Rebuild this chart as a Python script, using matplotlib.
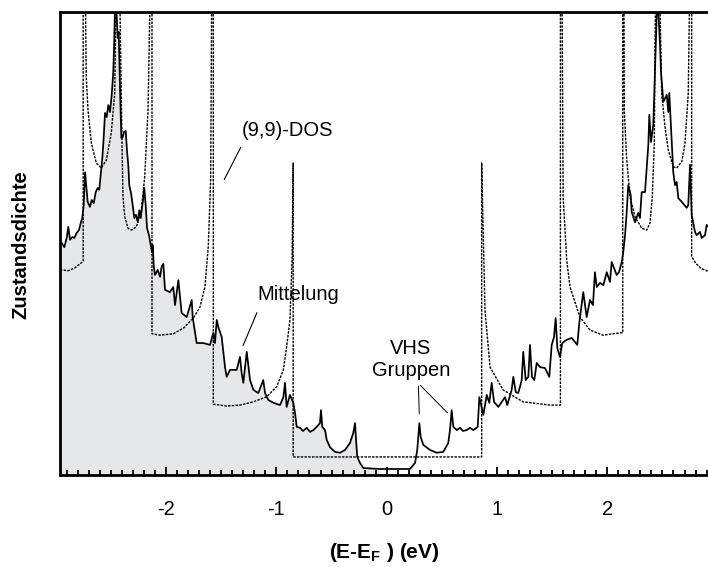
import numpy as np
import matplotlib
matplotlib.use("Agg")
import matplotlib.pyplot as plt

plt.rcParams['font.family'] = ['Liberation Sans', 'DejaVu Sans']
plt.rcParams['mathtext.fontset'] = 'custom'
plt.rcParams['mathtext.rm'] = 'Liberation Sans'
plt.rcParams['mathtext.bf'] = 'Liberation Sans:bold'

avg_e = [-2.946, -2.923, -2.901, -2.887, -2.871, -2.850, -2.832, -2.811, -2.790, -2.772,
         -2.760, -2.747, -2.735, -2.723, -2.711, -2.690, -2.675, -2.656, -2.638, -2.620,
         -2.606, -2.593, -2.578, -2.566, -2.554, -2.539, -2.524, -2.509, -2.493, -2.479,
         -2.470, -2.461, -2.448, -2.439, -2.430, -2.418, -2.406, -2.393, -2.382, -2.366,
         -2.354, -2.343, -2.334, -2.318, -2.303, -2.288, -2.273, -2.257, -2.243, -2.230,
         -2.218, -2.207, -2.198, -2.185, -2.173, -2.155, -2.140, -2.128, -2.121, -2.112,
         -2.101, -2.076, -2.055, -2.040, -2.025, -2.010, -1.965, -1.935, -1.919, -1.889,
         -1.859, -1.813, -1.768, -1.759, -1.723, -1.663, -1.602, -1.572, -1.557, -1.541,
         -1.527, -1.496, -1.466, -1.451, -1.421, -1.360, -1.330, -1.315, -1.300, -1.269,
         -1.239, -1.209, -1.164, -1.119, -1.103, -1.073, -1.028, -0.967, -0.937, -0.922,
         -0.907, -0.877, -0.847, -0.831, -0.816, -0.786, -0.759, -0.725, -0.695, -0.665,
         -0.635, -0.605, -0.596, -0.584, -0.559, -0.544, -0.514, -0.469, -0.423, -0.378,
         -0.333, -0.303, -0.287, -0.278, -0.267, -0.242, -0.212, -0.061, 0.211, 0.257,
         0.277, 0.296, 0.308, 0.332, 0.393, 0.453, 0.513, 0.558, 0.574, 0.589,
         0.604, 0.635, 0.665, 0.692, 0.725, 0.755, 0.785, 0.825, 0.840, 0.876,
         0.907, 0.930, 0.952, 0.973, 1.012, 1.043, 1.073, 1.093, 1.133, 1.148,
         1.170, 1.193, 1.224, 1.238, 1.260, 1.284, 1.299, 1.317, 1.338, 1.360,
         1.390, 1.435, 1.474, 1.496, 1.517, 1.532, 1.547, 1.571, 1.592, 1.632,
         1.677, 1.728, 1.746, 1.782, 1.813, 1.843, 1.870, 1.888, 1.904, 1.934,
         1.964, 1.995, 2.024, 2.040, 2.085, 2.106, 2.131, 2.145, 2.161, 2.176,
         2.190, 2.212, 2.221, 2.251, 2.281, 2.296, 2.312, 2.342, 2.357, 2.372,
         2.381, 2.396, 2.417, 2.432, 2.448, 2.457, 2.469, 2.478, 2.487, 2.508,
         2.539, 2.553, 2.562, 2.575, 2.598, 2.614, 2.629, 2.644, 2.675, 2.720,
         2.734, 2.750, 2.765, 2.795, 2.810, 2.840, 2.856, 2.886, 2.901, 2.920]
avg_dos = [5.01, 4.92, 5.12, 5.36, 5.08, 5.14, 5.12, 5.23, 5.29, 5.46,
           5.55, 5.83, 6.54, 6.22, 5.90, 5.79, 5.94, 5.87, 6.11, 6.20,
           6.16, 6.48, 6.85, 7.28, 7.82, 7.73, 7.99, 7.84, 8.21, 8.70,
           9.44, 10.3, 9.94, 9.44, 9.57, 8.36, 7.28, 7.30, 7.41, 7.43,
           6.98, 6.70, 6.26, 6.09, 5.83, 5.55, 5.62, 5.46, 5.72, 5.55,
           5.79, 5.98, 6.20, 5.83, 5.33, 5.18, 4.97, 4.82, 4.97, 4.51,
           4.32, 4.43, 4.28, 4.51, 4.56, 4.00, 3.95, 4.06, 3.67, 4.21,
           3.50, 3.41, 3.78, 3.41, 2.85, 2.85, 2.81, 3.07, 2.85, 3.35,
           3.20, 2.98, 2.33, 2.12, 2.27, 2.27, 2.55, 2.20, 1.99, 2.66,
           2.05, 1.84, 1.77, 2.05, 1.77, 1.62, 1.56, 1.51, 1.68, 1.99,
           1.47, 1.73, 1.56, 1.34, 1.04, 1.02, 0.95, 1.02, 0.93, 0.97,
           1.04, 1.12, 1.40, 1.04, 0.97, 0.76, 0.60, 0.50, 0.48, 0.54,
           0.69, 0.91, 1.12, 0.76, 0.39, 0.26, 0.15, 0.13, 0.13, 0.26,
           0.54, 1.12, 0.82, 0.65, 0.54, 0.48, 0.50, 0.69, 0.97, 1.40,
           1.04, 0.97, 1.02, 0.95, 0.97, 1.02, 0.97, 1.04, 1.68, 1.30,
           1.73, 1.56, 1.99, 1.58, 1.47, 1.58, 1.68, 1.51, 1.84, 2.12,
           1.79, 1.77, 2.05, 2.66, 2.05, 2.12, 2.81, 2.12, 2.05, 2.42,
           2.33, 2.31, 2.12, 2.81, 2.98, 3.39, 2.74, 2.55, 2.85, 2.92,
           2.96, 2.81, 3.28, 3.95, 3.41, 3.78, 3.67, 4.38, 4.06, 4.15,
           4.10, 4.38, 4.17, 4.60, 4.32, 4.38, 4.60, 4.82, 5.18, 5.68,
           6.26, 6.05, 5.68, 5.46, 5.66, 5.55, 6.11, 6.11, 6.63, 7.13,
           7.78, 7.19, 7.56, 8.70, 9.94, 10.3, 9.72, 9.29, 8.70, 8.06,
           8.21, 7.84, 8.25, 7.62, 6.54, 6.26, 6.33, 5.98, 5.90, 5.77,
           5.83, 6.70, 5.62, 5.25, 5.18, 5.25, 5.12, 5.18, 5.40, 5.35]

# calculated (9,9) DOS, dashed
dos_e = [-2.962, -2.94, -2.89, -2.83, -2.77, -2.752, -2.752, -2.735, -2.724, -2.708,
         -2.678, -2.633, -2.588, -2.542, -2.497, -2.466, -2.450, -2.424, -2.400, -2.391,
         -2.375, -2.345, -2.315, -2.270, -2.225, -2.194, -2.164, -2.140, -2.128, -2.128,
         -2.057, -1.935, -1.844, -1.753, -1.693, -1.648, -1.618, -1.596, -1.585, -1.572,
         -1.572, -1.451, -1.330, -1.209, -1.088, -0.997, -0.937, -0.907, -0.877, -0.858,
         -0.848, -0.848, 0.861, 0.861, 0.891, 0.937, 1.054, 1.236, 1.481, 1.575,
         1.575, 1.588, 1.600, 1.632, 1.662, 1.752, 1.843, 1.960, 2.114, 2.140,
         2.140, 2.150, 2.154, 2.176, 2.206, 2.251, 2.312, 2.357, 2.387, 2.408,
         2.426, 2.439, 2.471, 2.493, 2.523, 2.553, 2.598, 2.629, 2.675, 2.704,
         2.734, 2.750, 2.765, 2.765, 2.80, 2.85, 2.913]
dos_val = [4.42, 4.43, 4.41, 4.47, 4.58, 4.62, 11.0, 11.0, 8.60, 7.88,
           7.17, 6.74, 6.63, 6.80, 7.39, 8.25, 11.0, 11.0, 7.16, 6.01,
           5.58, 5.33, 5.29, 5.36, 5.72, 6.44, 7.88, 11.0, 11.0, 3.05,
           3.02, 3.05, 3.17, 3.39, 3.63, 4.06, 4.92, 6.37, 11.0, 11.0,
           1.53, 1.49, 1.51, 1.58, 1.69, 1.91, 2.27, 2.77, 3.35, 4.64,
           6.74, 0.39, 0.39, 6.74, 3.56, 2.33, 1.84, 1.58, 1.51, 1.51,
           11.0, 11.0, 6.0, 4.64, 4.06, 3.41, 3.13, 3.02, 3.07, 3.07,
           11.0, 11.0, 7.88, 6.80, 6.01, 5.58, 5.33, 5.29, 5.44, 6.01,
           7.16, 11.0, 11.0, 8.24, 7.52, 7.02, 6.66, 6.63, 6.77, 7.16,
           8.24, 11.0, 11.0, 4.72, 4.58, 4.46, 4.40]

xticks = [-2, -1, 0, 1, 2]

avg_e = np.array(avg_e)
avg_dos = np.array(avg_dos)

fig = plt.figure(figsize=(7.08, 5.67), dpi=100)
ax = fig.add_axes([60 / 708, 92 / 567, 648 / 708, 463 / 567])

ax.fill_between(avg_e, avg_dos, 0, where=avg_e <= 0.0, color='#e6e7e9', lw=0, zorder=1)
ax.plot(dos_e, dos_val, color='black', lw=1.0, ls=(0, (1.8, 0.9)), zorder=2)
ax.plot(avg_e, avg_dos, color='black', lw=1.25, zorder=3)

ax.set_xlim(-2.962, 2.913)
ax.set_ylim(0, 10)
ax.set_xticks(xticks)
ax.set_xticklabels([str(t) for t in xticks])
ax.set_xticks(np.arange(-29, 30) / 10, minor=True)
ax.set_yticks([])
ax.tick_params(axis='x', which='major', direction='in', length=6, width=1.3,
               pad=18, labelsize=14.5)
ax.tick_params(axis='x', which='minor', direction='in', length=3.5, width=1.3)
ax.tick_params(axis='x', top=False, which='both')
for side in ['left', 'top', 'bottom']:
    ax.spines[side].set_linewidth(2.0)
ax.spines['right'].set_visible(False)

fs = 14.5
ax.text(-0.90, 7.45, '(9,9)-DOS', fontsize=fs, ha='center', va='center')
ax.annotate('', xy=(-1.484, 6.33), xytext=(-1.312, 7.13),
            arrowprops=dict(arrowstyle='-', lw=0.8, color='black'))
ax.text(-0.80, 3.89, 'Mittelung', fontsize=fs, ha='center', va='center')
ax.annotate('', xy=(-1.312, 2.74), xytext=(-1.167, 3.56),
            arrowprops=dict(arrowstyle='-', lw=0.8, color='black'))
ax.text(0.22, 2.49, 'VHS\nGruppen', fontsize=fs, ha='center', va='center',
        multialignment='center', linespacing=1.2)
ax.annotate('', xy=(0.296, 1.26), xytext=(0.287, 1.98),
            arrowprops=dict(arrowstyle='-', lw=0.7, color='black'))
ax.annotate('', xy=(0.568, 1.30), xytext=(0.287, 1.98),
            arrowprops=dict(arrowstyle='-', lw=0.7, color='black'))

fig.text(384 / 708, 0.026, r'(E-E$_\mathbf{F}$ ) (eV)', fontsize=15,
         fontweight='bold', ha='center', va='center')
fig.text(21 / 708, (567 - 245) / 567, 'Zustandsdichte', fontsize=14.5,
         fontweight='bold', rotation=90, ha='center', va='center')

fig.savefig('out.png', dpi=100)
